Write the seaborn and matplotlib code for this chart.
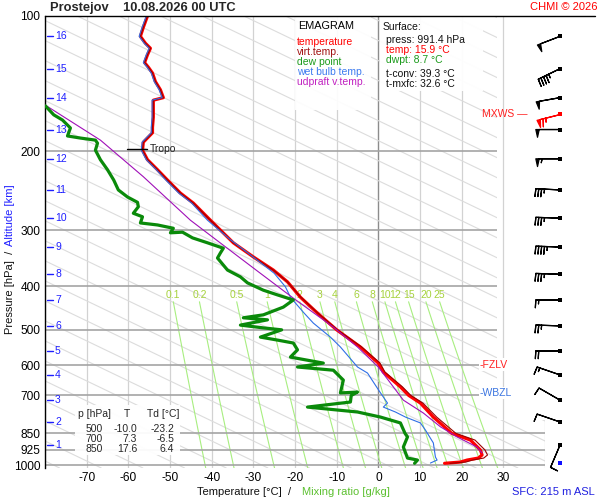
import numpy as np
import matplotlib
matplotlib.use("Agg")
import matplotlib.pyplot as plt
import seaborn as sns
from matplotlib.patches import Rectangle
from matplotlib.lines import Line2D
from matplotlib.ticker import NullLocator, FixedLocator

# ---------------- data ----------------
T_P = [100, 106, 111, 115, 118, 122, 127, 130, 134, 140, 146, 152, 154, 160, 168, 177, 182, 191, 199, 209,
       220, 232, 248, 261, 285, 320, 344, 368, 391, 423, 459, 500, 546, 593, 621, 670, 700, 728, 782, 850,
       880, 926, 950, 965, 975, 985, 991.4]
T_C = [-55.4, -56.4, -57.1, -55.9, -54.7, -55.4, -56.1, -55.2, -54.2, -53.5, -52.3, -51.6, -54.0, -54.0, -54.0,
       -54.2, -54.2, -56.4, -56.6, -55.4, -53.0, -50.6, -47.5, -44.4, -40.3, -34.8, -30.0, -25.2, -21.8, -18.7,
       -14.6, -10.0, -4.3, 0.0, 1.2, 5.3, 7.3, 10.1, 13.2, 17.6, 22.1, 24.5, 24.9, 24.0, 21.3, 19.7, 15.9]
TV_C = [-55.4, -56.4, -57.1, -55.9, -54.7, -55.4, -56.1, -55.2, -54.2, -53.5, -52.3, -51.6, -54.0, -54.0, -54.0,
        -54.2, -54.2, -56.4, -56.6, -55.4, -53.0, -50.6, -47.5, -44.4, -40.3, -34.8, -30.0, -25.2, -21.8, -18.6,
        -14.5, -9.8, -4.0, 0.4, 1.6, 5.8, 7.8, 10.7, 14.0, 18.6, 23.2, 25.6, 26.2, 25.3, 22.6, 21.0, 17.2]

TD_P = [158.6, 166, 170.5, 177.6, 185, 187, 189, 192, 199, 209, 220, 232, 244, 253, 260, 266, 275, 280, 289,
        292, 297, 304, 303, 312, 320, 329, 337, 346, 368, 381, 393, 408, 418, 429, 445, 463, 470, 475, 488,
        495, 500, 519, 527, 535, 554, 575, 593, 605, 615, 647, 691, 688, 700, 724, 743, 762, 782, 806, 850,
        866, 912, 965, 975, 991.4]
TD_C = [-79.9, -77.9, -75.8, -73.9, -74.6, -71.5, -67.9, -67.4, -67.9, -66.7, -65.0, -63.5, -62.4, -60.2,
        -57.8, -57.6, -58.8, -56.6, -57.1, -53.0, -49.2, -49.9, -47.0, -44.6, -41.0, -37.2, -37.9, -38.6,
        -36.2, -33.1, -31.4, -27.6, -24.2, -20.4, -22.8, -27.6, -32.4, -26.6, -33.1, -27.6, -23.2, -28.3,
        -24.2, -20.4, -19.4, -21.1, -13.2, -19.4, -10.8, -8.4, -9.1, -5.0, -6.5, -6.7, -17.0, -5.0, 0.5,
        5.3, 6.4, 7.0, 6.0, 7.0, 9.4, 8.7]

WB_P = [100, 106, 111, 115, 118, 122, 127, 130, 134, 140, 146, 152, 154, 160, 168, 177, 182, 191, 199, 209,
        220, 232, 248, 261, 285, 315, 341, 374, 401, 423, 459, 483, 519, 546, 605, 624, 684, 728, 743, 762,
        782, 806, 836, 893, 960, 975, 990]
WB_C = [-55.7, -56.7, -57.4, -56.2, -55.0, -55.7, -56.4, -55.5, -54.5, -53.8, -52.6, -51.9, -54.3, -54.3,
        -54.3, -54.5, -54.5, -56.7, -56.9, -55.7, -53.3, -51.0, -47.9, -44.8, -41.0, -35.5, -30.6, -25.0,
        -22.3, -21.1, -17.8, -15.6, -11.5, -9.1, -5.0, -2.6, 0.2, 2.2, 1.2, 4.1, 6.5, 10.1, 11.3, 13.2, 13.7,
        14.1, 12.5]

PAR_P = [158, 189, 228, 285, 324, 370, 425, 493, 546, 605, 717, 766, 822, 866, 912, 940]
PAR_C = [-79.9, -66.7, -56.4, -45.1, -37.2, -29.0, -20.4, -10.8, -5.0, 0.0, 6.0, 10.8, 14.9, 18.9, 23.7, 24.9]

P_TICKS = [100, 200, 300, 400, 500, 600, 700, 850, 925, 1000]
T_TICKS = [-70, -60, -50, -40, -30, -20, -10, 0, 10, 20, 30]
MR_VALUES = [0.1, 0.2, 0.5, 1, 2, 3, 4, 6, 8, 10, 12, 15, 20, 25]
MR_LABELS = ["0.1", "0.2", "0.5", "1", "2", "3", "4", "6", "8", "10", "12", "15", "20", "25"]

ALT_KM = [1, 2, 3, 4, 5, 6, 7, 8, 9, 10, 11, 12, 13, 14, 15, 16]
ALT_P = [903, 802, 717, 630, 557, 490, 429, 376, 327, 282, 244, 208, 179, 152, 131, 111]

WIND_DIR = [203, 289, 300, 289, 270, 272, 270, 272, 272, 272, 273, 270, 270, 260, 244, 249]
WIND_SPD = [10, 10, 10, 15, 20, 25, 15, 35, 45, 35, 35, 55, 50, 50, 45, 50]
MXWS_P, MXWS_DIR, MXWS_SPD = 165, 256, 65

TROPO_P = 198
FZLV_P = 598
WBZL_P = 691
SFC_P = 991.4

TABLE_ROWS = [("500", "-10.0", "-23.2"), ("700", "7.3", "-6.5"), ("850", "17.6", "6.4")]

# ---------------- figure ----------------
sns.set_theme(style="white")
plt.rcParams['font.family'] = ['Liberation Sans', 'DejaVu Sans']

W, H = 600, 500
fig = plt.figure(figsize=(6, 5), dpi=100)
fig.patch.set_facecolor('white')


def fx(px):
    return px / W


def fy(py):
    return 1 - py / H


ax = fig.add_axes([fx(45), fy(468), 500 / W, 452 / H])
ax.set_facecolor('white')
ax.set_yscale('log')
XMIN, XMAX = -80, 40
PBOT, PTOP = 1015.5, 100
ax.set_xlim(XMIN, XMAX)
ax.set_ylim(PBOT, PTOP)

# isotherms
for t in range(-80, 41, 10):
    ax.axvline(t, color='#8c8c8c' if t == 0 else '#d2d2d2', lw=1.0 if t == 0 else 0.9, zorder=1)

# diagonal reference lines
pg = np.geomspace(PTOP, PBOT, 60)
for t0 in range(-78, 280, 10):
    ax.plot(t0 + 97.4 * np.log(pg / 1000.0), pg, color='#dcdcdc', lw=0.8, zorder=1.2)

# mixing ratio lines
def td_from_w(w, p):
    e = w * p / (622.0 + w)
    l = np.log(e / 6.112)
    return 243.5 * l / (17.67 - l)

pm = np.geomspace(433, PBOT, 40)
for w, lab in zip(MR_VALUES, MR_LABELS):
    ax.plot(td_from_w(w, pm), pm, color='#a8ee80', lw=0.8, zorder=1.3)
    ax.text(td_from_w(w, 433), 418, lab, color='#a6d23c', fontsize=7.5, ha='center', va='center', zorder=1.4)

# isobars
for p in P_TICKS[1:]:
    ax.axhline(p, color='#a4a4a4', lw=1.2, zorder=1.5)

# white boxes (barb column, legend, surface, table)
def fig_box(x0, y0, x1, y1, alpha=1.0, z=2):
    ax.add_patch(Rectangle((fx(x0), fy(y1)), fx(x1) - fx(x0), fy(y0) - fy(y1), transform=fig.transFigure,
                           facecolor='white', edgecolor='none', alpha=alpha, zorder=z, clip_on=False))

fig_box(497, 16, 600, 420)
ax.plot([30, 30], [PTOP, 790], color='#d2d2d2', lw=0.9, zorder=2.1)
fig_box(295, 17, 371, 110, alpha=0.92)
fig_box(380, 17, 483, 91, alpha=0.95)
fig_box(75, 405, 180, 455, alpha=0.95)

# curves
sns.lineplot(x=T_C, y=T_P, sort=False, estimator=None, color='#ff0000', linewidth=2.3, ax=ax, zorder=4)
sns.lineplot(x=TV_C, y=T_P, sort=False, estimator=None, color='#9a0000', linewidth=0.8, ax=ax, zorder=4.1)
sns.lineplot(x=WB_C, y=WB_P, sort=False, estimator=None, color='#2f6fe6', linewidth=0.8, ax=ax, zorder=4.2)
sns.lineplot(x=PAR_C, y=PAR_P, sort=False, estimator=None, color='#a010b8', linewidth=0.8, ax=ax, zorder=4.3)
sns.lineplot(x=TD_C, y=TD_P, sort=False, estimator=None, color='#0a8a0a', linewidth=2.3, ax=ax, zorder=4.4)

# axes styling
for s in ['top', 'right', 'bottom']:
    ax.spines[s].set_visible(False)
ax.spines['left'].set_color('black')
ax.spines['left'].set_linewidth(1.0)
ax.yaxis.set_major_locator(FixedLocator(P_TICKS))
ax.yaxis.set_minor_locator(NullLocator())
ax.set_yticklabels([str(p) for p in P_TICKS])
ax.set_xticks(T_TICKS)
ax.set_xticklabels([str(t) for t in T_TICKS])
ax.tick_params(axis='y', length=0, pad=3.5, labelsize=8.6, labelcolor='black')
ax.tick_params(axis='x', length=0, pad=3.0, labelsize=8.6, labelcolor='black')
ax.set_xlabel('')
ax.set_ylabel('')
ax.grid(False)

# top line
fig.add_artist(Line2D([fx(45), fx(595)], [fy(16), fy(16)], color='black', lw=1.0))

# altitude labels
yt = ax.get_yaxis_transform()
for km, p in zip(ALT_KM, ALT_P):
    ax.plot([0.004, 0.016], [p, p], color='#1e1eff', lw=1.0, transform=yt, zorder=5, clip_on=False)
    ax.text(0.02, p, str(km), color='#1e1eff', fontsize=7.5, ha='left', va='center', transform=yt, zorder=5)

# tropopause
ax.plot([-60.2, -55.4], [TROPO_P, TROPO_P], color='black', lw=1.0, zorder=6)
ax.text(-54.9, TROPO_P, 'Tropo', fontsize=7.5, ha='left', va='center', color='#222222', zorder=6)

# FZLV / WBZL
ax.text(24.4, FZLV_P, '-FZLV', color='#ff2020', fontsize=7.5, ha='left', va='center', zorder=6,
        bbox=dict(facecolor='white', edgecolor='none', pad=1.0))
ax.text(24.4, WBZL_P, '-WBZL', color='#3a74e0', fontsize=7.5, ha='left', va='center', zorder=6,
        bbox=dict(facecolor='white', edgecolor='none', pad=1.0))

# wind barbs (pennant levels get a wider flag base, others near-upright barbs)
XB = -80 + (560 - 45) / (500 / 120.0)
wp = np.array(ALT_P, float)
d = np.deg2rad(np.array(WIND_DIR, float))
s = np.array(WIND_SPD, float)
u = -s * np.sin(d)
v = -s * np.cos(d)
flag = s >= 50
sz_flag = dict(height=0.32, spacing=0.12, width=0.14, emptybarb=0.0)
sz_thin = dict(height=0.32, spacing=0.12, width=0.04, emptybarb=0.0)
for mask, sz in [(flag, sz_flag), (~flag, sz_thin)]:
    ax.barbs(np.full(mask.sum(), XB), wp[mask], u[mask], v[mask], length=5.9, sizes=sz, linewidth=0.9,
             color='black', flip_barb=True, clip_on=False, zorder=7)
dm = np.deg2rad(MXWS_DIR)
ax.barbs([XB], [MXWS_P], [-MXWS_SPD * np.sin(dm)], [-MXWS_SPD * np.cos(dm)], length=5.9, sizes=sz_flag,
         linewidth=0.9, color='#ff0000', flip_barb=True, clip_on=False, zorder=7)
ax.scatter([XB] * len(ALT_P), ALT_P, marker='s', s=5, color='black', clip_on=False, zorder=8, linewidths=0)
ax.scatter([XB], [MXWS_P], marker='s', s=5, color='#ff0000', clip_on=False, zorder=8, linewidths=0)
ax.scatter([XB], [SFC_P], marker='s', s=6, color='#1010ff', clip_on=False, zorder=8, linewidths=0)
fig.text(fx(528), fy(114), 'MXWS \u2014', color='#ff2020', fontsize=7.5, ha='right', va='center')

# header texts
fig.text(fx(50), fy(8), 'Prostejov    10.08.2026 00 UTC', fontsize=9.3, fontweight='bold', ha='left',
         va='center')
fig.text(fx(597), fy(7), 'CHMI \u00a9 2026', fontsize=8, color='#ff0000', ha='right', va='center')

# legend
fig.text(fx(298), fy(26), 'EMAGRAM', fontsize=7.8, color='black', ha='left', va='center', zorder=9)
leg = [('temperature', '#ff0000'), ('virt.temp.', '#a01010'), ('dew point', '#1a9a1a'),
       ('wet bulb temp.', '#3a7af0'), ('udpraft v.temp.', '#c020c0')]
for i, (txt, c) in enumerate(leg):
    fig.text(fx(297), fy(42 + 10 * i), txt, fontsize=7.5, color=c, ha='left', va='center', zorder=9)

# surface box
fig.text(fx(383), fy(27), 'Surface:', fontsize=7.5, color='#111111', ha='left', va='center', zorder=9)
srf = [('press: 991.4 hPa', '#111111', 40), ('temp: 15.9 \u00b0C', '#ff0000', 50),
       ('dwpt: 8.7 \u00b0C', '#1a9a1a', 60), ('t-conv: 39.3 \u00b0C', '#111111', 74),
       ('t-mxfc: 32.6 \u00b0C', '#111111', 84)]
for txt, c, y in srf:
    fig.text(fx(386), fy(y), txt, fontsize=7.5, color=c, ha='left', va='center', zorder=9)

# table
fig.text(fx(78), fy(414), 'p [hPa]', fontsize=7.5, ha='left', va='center')
fig.text(fx(127), fy(414), 'T', fontsize=7.5, ha='center', va='center')
fig.text(fx(147), fy(414), 'Td [\u00b0C]', fontsize=7.5, ha='left', va='center')
for i, (pp, tt, dd) in enumerate(TABLE_ROWS):
    yy = fy(429 + 10 * i)
    fig.text(fx(103), yy, pp, fontsize=7.5, ha='right', va='center')
    fig.text(fx(137), yy, tt, fontsize=7.5, ha='right', va='center')
    fig.text(fx(174), yy, dd, fontsize=7.5, ha='right', va='center')

# axis labels
fig.text(fx(197), fy(492), 'Temperature [\u00b0C]  /', fontsize=8, color='#111111', ha='left', va='center')
fig.text(fx(302), fy(492), 'Mixing ratio [g/kg]', fontsize=8, color='#5cc030', ha='left', va='center')
fig.text(fx(10), fy(334), 'Pressure [hPa]  /', fontsize=8, color='#111111', rotation=90, ha='center',
         va='bottom')
fig.text(fx(10), fy(246), 'Altitude [km]', fontsize=8, color='#2020ff', rotation=90, ha='center', va='bottom')
fig.text(fx(512), fy(492), 'SFC: 215 m ASL', fontsize=8, color='#2020e0', ha='left', va='center')

fig.savefig('out.png', dpi=100, facecolor='white')
